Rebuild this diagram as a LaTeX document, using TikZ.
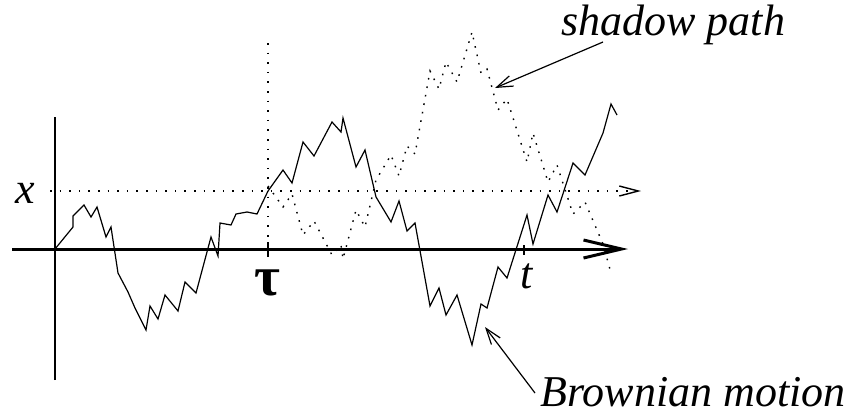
\documentclass[tikz,border=0pt]{standalone}
\usepackage{fontspec}
\setmainfont{Liberation Serif}
\usetikzlibrary{arrows.meta}

% part of the path after the hitting time, shared by both paths
\newcommand{\afterhit}{(268,191) -- (283,170) -- (292,183) -- (303,142) -- (314,156)
  -- (332,122) -- (341,132) -- (343,118) -- (356,167) -- (365,150) -- (376,197)
  -- (391,222) -- (399,201) -- (407,231) -- (415,223) -- (430,306) -- (439,288)
  -- (446,315) -- (457,295) -- (472,345) -- (481,304) -- (487,308) -- (498,267)
  -- (507,278) -- (527,215) -- (533,244) -- (548,195) -- (557,212) -- (573,163)
  -- (585,175) -- (603,133) -- (611,104)}

\begin{document}
\begin{tikzpicture}[
  x=0.5pt, y=-0.5pt,
  font=\fontsize{22}{26}\selectfont,
  lbl/.style={inner sep=0pt, font=\fontsize{22}{26}\selectfont\itshape},
  axis/.style={line width=1.5pt, -{Straight Barb[length=19pt, width=9pt]}},
  level/.style={line width=0.7pt, dash pattern=on 0.8pt off 4pt,
                -{Straight Barb[length=9.5pt, width=5pt]}},
  timeline/.style={line width=0.7pt, dash pattern=on 0.8pt off 4pt},
  tick/.style={line width=1pt},
  walk/.style={line width=0.6pt, line join=miter},
  shadow/.style={line width=0.7pt, dash pattern=on 0.8pt off 3.5pt},
  pointer/.style={line width=0.6pt, -{Straight Barb[length=8pt, width=5.5pt]}},
]
\useasboundingbox (0,0) rectangle (844,414);

% axes
\coordinate (O) at (55,249);
\coordinate (axW) at (12,249);
\coordinate (axE) at (628,249);
\coordinate (axN) at (55,117);
\coordinate (axS) at (55,380);
\draw[axis] (axW) -- (axE);
\draw[line width=1.1pt] (axS) -- (axN);

% level x and hitting time
\coordinate (lvW) at (50,191);
\coordinate (lvE) at (641,191);
\coordinate (hitN) at (268,43);
\coordinate (hit) at (268,249);
\draw[level] (lvW) -- (lvE);
\draw[timeline] (hitN) -- (hit);
\draw[tick] (268,242) -- (268,257);
\draw[tick] (524,245) -- (524,255);

\node[lbl, anchor=base] (xlab) at (25,203) {x};
\node[inner sep=0pt, anchor=base, font=\fontsize{28}{32}\selectfont\bfseries] (taulab) at (267,295) {τ};
\node[lbl, anchor=base] (tlab) at (527,288) {t};

% Brownian motion
\draw[walk] (O) -- (73,227) -- (73,216) -- (84,205) -- (91,217) -- (97,207)
  -- (106,237) -- (111,227) -- (118,273) -- (128,292) -- (135,308) -- (146,330)
  -- (150,306) -- (158,319) -- (165,295) -- (178,311) -- (185,282) -- (196,293)
  -- (211,237) -- (218,256) -- (220,223) -- (231,225) -- (236,214) -- (247,212)
  -- (257,214) -- (268,191);
\draw[walk] \afterhit -- (617,115);

% shadow path: reflection about the level
\begin{scope}[shift={(0,377)}, yscale=-1]
  \draw[shadow] \afterhit;
\end{scope}

% labels
\node[lbl, anchor=base west] (shadowlab) at (561,35) {shadow path};
\node[lbl, anchor=base west] (brownlab) at (540,406) {Brownian motion};
\coordinate (shadowfoot) at (603,42);
\coordinate (shadowtip) at (495,88);
\coordinate (brownfoot) at (535,393);
\coordinate (browntip) at (485,327);
\draw[pointer] (shadowfoot) -- (shadowtip);
\draw[pointer] (brownfoot) -- (browntip);

\end{tikzpicture}
\end{document}
